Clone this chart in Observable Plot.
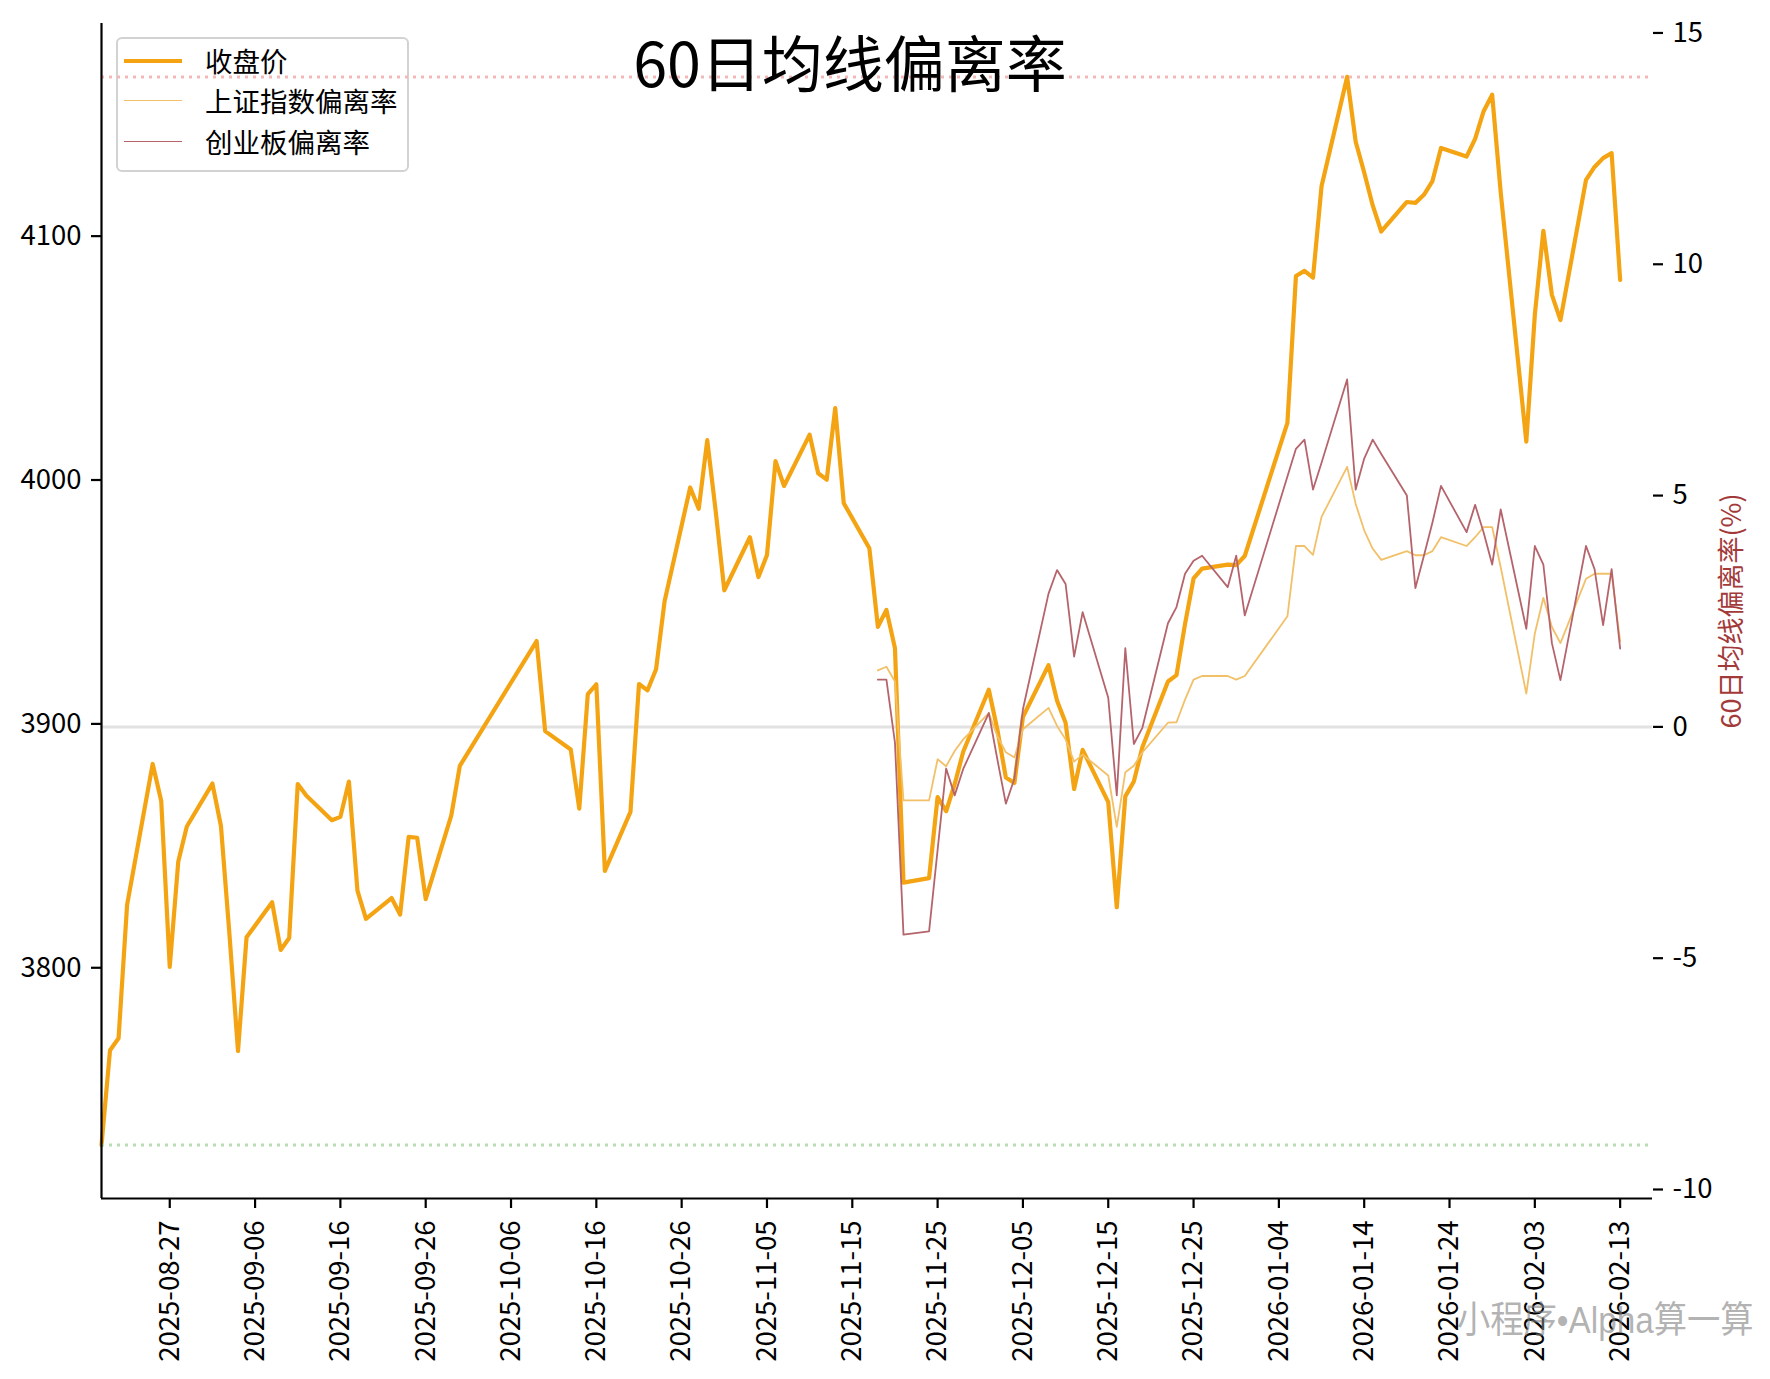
<!DOCTYPE html>
<html>
<head>
<meta charset="utf-8">
<script src="https://cdn.jsdelivr.net/npm/d3@7"></script>
<script src="https://cdn.jsdelivr.net/npm/@observablehq/plot@0.6"></script>
<style>
  body { margin: 0; background: #fff; }
  #wrap { position: relative; width: 1770px; height: 1379px; font-family: "Noto Sans CJK SC", sans-serif; background:#fff; }
  #chart { position: absolute; left: 0; top: 0; z-index: 1; }
  #legend { position: absolute; left: 116px; top: 37px; width: 289px; height: 131px; border: 2px solid #d2d2d2; border-radius: 6px; background: #fff; z-index: 0; }
  .row { position: absolute; left: 0; height: 0; }
  .sw { position: absolute; left: 6px; width: 58px; }
  .lab { position: absolute; left: 87px; font-size: 27.5px; line-height: 1; transform: translateY(-50%); white-space: nowrap; color: #000; }
  #wm { position: absolute; right: 16px; top: 1302px; font-size: 37px; line-height: 1; font-family: "Liberation Sans Narrow", "Liberation Sans", "Noto Sans CJK SC", sans-serif; color: rgba(128,128,128,0.6); transform: scaleX(0.9); transform-origin: right center; white-space: nowrap; z-index: 2; }
</style>
</head>
<body>
<div id="wrap">
  <div id="legend"></div>
  <div id="chart"></div>
  <div id="wm">小程序•Alpha算一算</div>
</div>
<script>
// ---- data ----
const dates = [
"2025-08-19","2025-08-20","2025-08-21","2025-08-22","2025-08-25","2025-08-26","2025-08-27","2025-08-28","2025-08-29",
"2025-09-01","2025-09-02","2025-09-03","2025-09-04","2025-09-05","2025-09-08","2025-09-09","2025-09-10","2025-09-11","2025-09-12",
"2025-09-15","2025-09-16","2025-09-17","2025-09-18","2025-09-19","2025-09-22","2025-09-23","2025-09-24","2025-09-25","2025-09-26",
"2025-09-29","2025-09-30",
"2025-10-09","2025-10-10","2025-10-13","2025-10-14","2025-10-15","2025-10-16","2025-10-17","2025-10-20","2025-10-21","2025-10-22",
"2025-10-23","2025-10-24","2025-10-27","2025-10-28","2025-10-29","2025-10-30","2025-10-31",
"2025-11-03","2025-11-04","2025-11-05","2025-11-06","2025-11-07","2025-11-10","2025-11-11","2025-11-12","2025-11-13","2025-11-14",
"2025-11-17","2025-11-18","2025-11-19","2025-11-20","2025-11-21","2025-11-24","2025-11-25","2025-11-26","2025-11-27","2025-11-28",
"2025-12-01","2025-12-02","2025-12-03","2025-12-04","2025-12-05","2025-12-08","2025-12-09","2025-12-10","2025-12-11","2025-12-12",
"2025-12-15","2025-12-16","2025-12-17","2025-12-18","2025-12-19","2025-12-22","2025-12-23","2025-12-24","2025-12-25","2025-12-26",
"2025-12-29","2025-12-30","2025-12-31",
"2026-01-05","2026-01-06","2026-01-07","2026-01-08","2026-01-09","2026-01-12","2026-01-13","2026-01-14","2026-01-15","2026-01-16",
"2026-01-19","2026-01-20","2026-01-21","2026-01-22","2026-01-23","2026-01-26","2026-01-27","2026-01-28","2026-01-29","2026-01-30",
"2026-02-02","2026-02-03","2026-02-04","2026-02-05","2026-02-06","2026-02-09","2026-02-10","2026-02-11","2026-02-12","2026-02-13"
];
const closes = [
3727.29,3766.21,3771.10,3825.76,3883.56,3868.38,3800.35,3843.60,3857.93,
3875.53,3858.13,3813.56,3765.88,3812.51,3826.84,3807.29,3812.22,3875.31,3870.60,
3860.50,3861.87,3876.34,3831.66,3820.09,3828.58,3821.83,3853.64,3853.30,3828.11,
3862.53,3882.78,
3933.97,3897.03,3889.50,3865.23,3912.21,3916.23,3839.76,3863.89,3916.33,3913.76,
3922.41,3950.31,3996.94,3988.22,4016.33,3986.90,3954.79,
3976.52,3960.19,3969.25,4007.76,3997.56,4018.60,4002.76,4000.14,4029.50,3990.49,
3972.03,3939.81,3946.74,3931.05,3834.89,3836.77,3870.02,3864.18,3875.26,3888.60,
3914.01,3897.71,3878.00,3875.79,3902.81,3924.08,3909.52,3900.50,3873.32,3889.35,
3867.92,3824.81,3870.28,3876.37,3890.45,3917.36,3919.98,3940.95,3959.62,3963.68,
3965.28,3965.12,3968.84,
4023.42,4083.67,4085.77,4082.98,4120.43,4165.29,4138.76,4126.09,4112.60,4101.91,
4114.00,4113.65,4116.94,4122.58,4136.16,4132.61,4139.90,4151.24,4157.98,4117.95,
4015.75,4067.74,4102.20,4075.92,4065.58,4123.09,4128.37,4131.99,4134.02,4082.07
];
// deviation series start on 2025-11-18
const devStart = "2025-11-18";
const shDev = [
1.22,1.30,0.98,-1.59,-1.59,-0.70,-0.85,-0.52,-0.27,
0.30,-0.20,-0.55,-0.66,-0.05,0.41,0.02,-0.27,-0.75,-0.60,
-1.05,-2.16,-0.98,-0.84,-0.55,0.09,0.10,0.59,1.02,1.10,
1.10,1.02,1.10,
2.39,3.91,3.91,3.72,4.54,5.62,4.82,4.25,3.85,3.61,
3.80,3.71,3.71,3.80,4.10,3.91,4.10,4.32,4.32,3.45,
0.72,2.02,2.79,2.16,1.81,3.20,3.31,3.31,3.31,1.85
];
const cyDev = [
1.02,1.02,-0.34,-4.49,-4.42,-2.66,-0.90,-1.48,-0.91,
0.30,-0.70,-1.66,-1.12,0.38,2.88,3.39,3.09,1.52,2.48,
0.63,-1.48,1.70,-0.37,-0.02,2.24,2.59,3.31,3.59,3.70,
3.02,3.70,2.41,
5.41,6.01,6.21,5.13,5.71,7.51,5.13,5.80,6.21,5.90,
5.00,3.00,3.70,4.42,5.21,4.21,4.80,4.20,3.51,4.70,
2.12,3.91,3.51,1.81,1.01,3.91,3.41,2.20,3.41,1.69
];
// reference lines on the deviation axis
const devRefHigh = 14.05;
const devRefLow = -9.04;
const leftTicks = [3800, 3900, 4000, 4100];
const rightTicks = [-10, -5, 0, 5, 10, 15];
const xTickLabels = ["2025-08-27","2025-09-06","2025-09-16","2025-09-26","2025-10-06","2025-10-16","2025-10-26","2025-11-05","2025-11-15",
"2025-11-25","2025-12-05","2025-12-15","2025-12-25","2026-01-04","2026-01-14","2026-01-24","2026-02-03","2026-02-13"];
const seriesNames = ["收盘价", "上证指数偏离率", "创业板偏离率"];
const titleText = "60日均线偏离率";
const rightLabel = "60日均线偏离率(%)";

// ---- build ----
const parse = d3.utcParse("%Y-%m-%d");
const closeData = dates.map((d, i) => ({date: parse(d), close: closes[i]}));
const i0 = dates.indexOf(devStart);
const devData = dates.slice(i0).map((d, i) => ({date: parse(d), sh: shDev[i], cy: cyDev[i]}));

const cMin = d3.min(closes), cMax = d3.max(closes);
const pad = (cMax - cMin) * 0.05;
const yLo = cMin - pad, yHi = cMax + pad;
// twin axis: deviation reference lines sit at the same relative place as the close extremes
const dev2y = v => cMin + (v - devRefLow) / (devRefHigh - devRefLow) * (cMax - cMin);
const y2dev = y => devRefLow + (y - cMin) / (cMax - cMin) * (devRefHigh - devRefLow);

const colors = ["#f4a412", "#f2c068", "#b5646c"];
const widths = [4.2, 1.8, 1.8];
const font = "'Noto Sans CJK SC', sans-serif";
const xStart = parse(dates[0]);
const xEnd = new Date(Date.UTC(2026, 1, 16, 19));

const chart = Plot.plot({
  width: 1770,
  height: 1379,
  marginLeft: 101,
  marginRight: 118,
  marginTop: 23,
  marginBottom: 181,
  style: {background: "transparent", fontFamily: font, fontSize: "27.5px", color: "#000"},
  x: {type: "utc", domain: [xStart, xEnd]},
  y: {domain: [yLo, yHi]},
  marks: [
    Plot.ruleY([dev2y(0)], {stroke: "#e2e2e2", strokeWidth: 3}),
    Plot.lineY(closeData, {x: "date", y: "close", stroke: colors[0], strokeWidth: widths[0]}),
    Plot.lineY(devData, {x: "date", y: d => dev2y(d.sh), stroke: colors[1], strokeWidth: widths[1]}),
    Plot.lineY(devData, {x: "date", y: d => dev2y(d.cy), stroke: colors[2], strokeWidth: widths[2]}),
    Plot.ruleY([dev2y(devRefHigh)], {stroke: "#f3b9b9", strokeWidth: 3, strokeDasharray: "3,5"}),
    Plot.ruleY([dev2y(devRefLow)], {stroke: "#b9ddb2", strokeWidth: 3, strokeDasharray: "3,5"}),
    Plot.axisY({ticks: leftTicks, anchor: "left", tickSize: 10, tickPadding: 10, label: null, fontSize: 27.5, strokeWidth: 2.2, tickFormat: d => String(d)}),
    Plot.axisY(rightTicks.map(dev2y), {anchor: "right", tickSize: 10, tickPadding: 10, label: null, fontSize: 27.5, strokeWidth: 2.2,
      tickFormat: d => String(Math.round(y2dev(d)))}),
    Plot.axisX(xTickLabels.map(parse), {anchor: "bottom", tickFormat: d3.utcFormat("%Y-%m-%d"), tickRotate: -90, tickSize: 10, tickPadding: 12,
      label: null, fontSize: 27.5, strokeWidth: 2.2}),
    Plot.ruleX([xStart], {stroke: "#000", strokeWidth: 2.2}),
    Plot.ruleY([yLo], {stroke: "#000", strokeWidth: 2.2}),
    Plot.text([titleText], {frameAnchor: "top", dx: -27, dy: 20, fontSize: 61, fill: "#000", text: d => d}),
    Plot.text([rightLabel], {frameAnchor: "right", textAnchor: "middle", dx: 80, rotate: -90, fontSize: 27, fill: "#a33a3a", text: d => d})
  ]
});
document.getElementById("chart").appendChild(chart);

// legend
const lg = document.getElementById("legend");
const rowY = [22, 62, 103];
seriesNames.forEach((name, i) => {
  const row = document.createElement("div");
  row.className = "row";
  row.style.top = rowY[i] + "px";
  const sw = document.createElement("div");
  sw.className = "sw";
  sw.style.borderTop = widths[i] + "px solid " + colors[i];
  sw.style.top = (-widths[i] / 2) + "px";
  const lab = document.createElement("div");
  lab.className = "lab";
  lab.textContent = name;
  row.appendChild(sw);
  row.appendChild(lab);
  lg.appendChild(row);
});
</script>
</body>
</html>
